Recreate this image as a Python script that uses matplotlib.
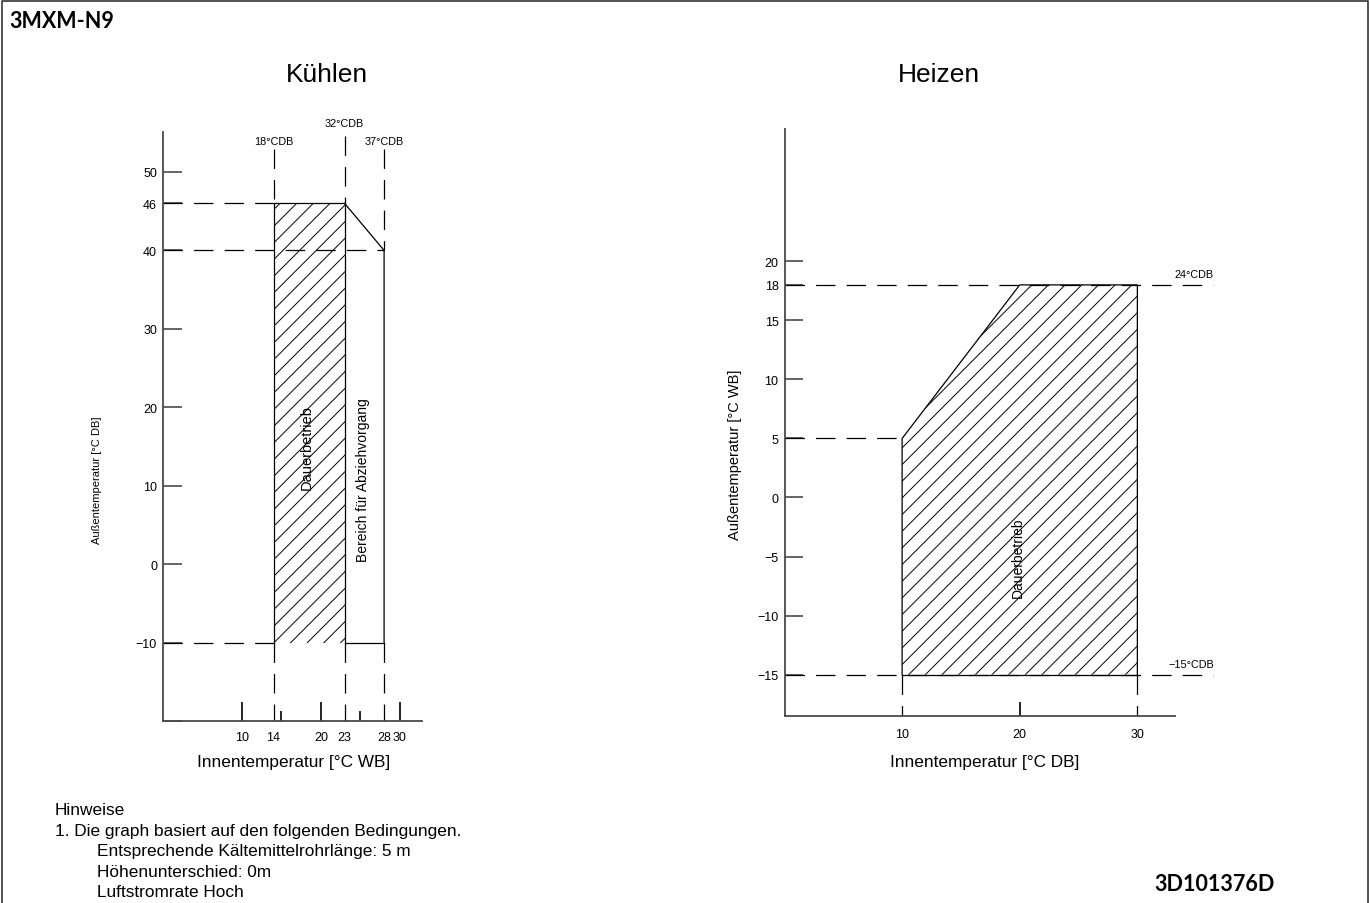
"""
Operation range chart, 3MXM-N9 (cooling / heating).
"""

import matplotlib.pyplot as plt
from matplotlib.font_manager import FontProperties
from matplotlib.lines import Line2D
from matplotlib.patches import Polygon

# ── DATA ──────────────────────────────────────────────────────────────────────
# Kühlen: indoor WB (x) vs outdoor DB (y)
cool_cont_x = [14, 14, 23, 23]          # Dauerbetrieb (hatched)
cool_cont_y = [-10, 46, 46, -10]
cool_pull_x = [23, 28, 28]              # Bereich für Abziehvorgang
cool_pull_y = [46, 40, -10]
cool_yticks = [-20, -10, 0, 10, 20, 30, 40, 46, 50]
cool_ylabels = ["", "−10", "0", "10", "20", "30", "40", "46", "50"]
cool_xticks = [10, 14, 20, 23, 28, 30]
cool_xminor = [15, 25]
cool_xguides = [14, 23, 28]             # dashed verticals
cool_limits = {"x": (0, 32.8), "y": (-20, 55.1)}
cool_cdb = [("18°CDB", 14, 54.0), ("32°CDB", 23, 56.2), ("37°CDB", 28, 54.0)]

# Heizen: indoor DB (x) vs outdoor WB (y)
heat_cont_x = [10, 10, 20, 30, 30]
heat_cont_y = [-15, 5, 18, 18, -15]
heat_yticks = [-15, -10, -5, 0, 5, 10, 15, 18, 20]
heat_ylabels = ["−15", "−10", "−5", "0", "5", "10", "15", "18", "20"]
heat_xticks = [10, 20, 30]
heat_limits = {"x": (0, 33.2), "y": (-18.5, 31.2)}
heat_cdb = [("24°CDB", 18), ("−15°CDB", -15)]

notes = [
    ("Hinweise", 55),
    ("1. Die graph basiert auf den folgenden Bedingungen.", 55),
    ("Entsprechende Kältemittelrohrlänge: 5 m", 97),
    ("Höhenunterschied: 0m", 97),
    ("Luftstromrate Hoch", 97),
]

# ── STYLE ─────────────────────────────────────────────────────────────────────
plt.rcParams["lines.scale_dashes"] = False
plt.rcParams["hatch.linewidth"] = 0.7
plt.rcParams["font.family"] = "Liberation Sans"

W, H = 1370, 904
AXIS = "#4a4a4a"
LW = 0.9
DASH = (0, (14, 8))
TICK_FONT = FontProperties(family="Liberation Sans", size=9)
SMALL_FONT = FontProperties(family="Liberation Sans", size=7.8)


def fx(px):
    return px / W


def fy(py):
    return 1 - py / H


def axes_box(fig, x0, x1, y_top, y_bot):
    return fig.add_axes([fx(x0), fy(y_bot), (x1 - x0) / W, (y_bot - y_top) / H])


def style_axes(ax, limits):
    ax.set_xlim(*limits["x"])
    ax.set_ylim(*limits["y"])
    for s in ("top", "right"):
        ax.spines[s].set_visible(False)
    for s in ("left", "bottom"):
        ax.spines[s].set_color(AXIS)
        ax.spines[s].set_linewidth(1.3)


def line(ax, x, y, dashed=False, **kw):
    ax.plot(x, y, color="black", lw=LW, ls=DASH if dashed else "-",
            clip_on=False, **kw)


def main():
    fig = plt.figure(figsize=(W / 100, H / 100), dpi=100)

    # frame
    fig.add_artist(Line2D([fx(1.5), fx(1.5), fx(1367.5), fx(1367.5)],
                          [0, fy(1.5), fy(1.5), 0],
                          transform=fig.transFigure, color="#333333", lw=1.2))
    fig.text(fx(9), fy(22), "3MXM-N9", family="Lato", weight="bold",
             fontsize=15.5, ha="left", va="center")
    fig.text(fx(1154), fy(885), "3D101376D", family="Lato", weight="bold",
             fontsize=15.5, ha="left", va="center")

    # ── Kühlen ────────────────────────────────────────────────────────────────
    ax1 = axes_box(fig, 163, 422, 133, 722)
    style_axes(ax1, cool_limits)
    ymin = cool_limits["y"][0]

    ax1.add_patch(Polygon(list(zip(cool_cont_x, cool_cont_y)), closed=True,
                          facecolor="none", edgecolor="black", lw=0,
                          hatch="//"))
    line(ax1, cool_cont_x, cool_cont_y)
    line(ax1, cool_pull_x, cool_pull_y)
    line(ax1, [cool_cont_x[-1], cool_pull_x[-1]], [cool_cont_y[-1], cool_pull_y[-1]])

    # dashed guides
    line(ax1, [0, cool_cont_x[0]], [cool_cont_y[1]] * 2, dashed=True)
    line(ax1, [0, cool_pull_x[-1]], [cool_pull_y[1]] * 2, dashed=True)
    line(ax1, [0, cool_cont_x[0]], [cool_cont_y[0]] * 2, dashed=True)
    tops = [52.9, 54.6, 52.9]
    starts = [cool_cont_y[1], cool_cont_y[2], cool_pull_y[1]]
    for gx, top, st in zip(cool_xguides, tops, starts):
        line(ax1, [gx, gx], [top, st], dashed=True)
        line(ax1, [gx, gx], [cool_cont_y[0], ymin], dashed=True)

    for label, x, y in cool_cdb:
        ax1.text(x, y, label, fontproperties=SMALL_FONT, ha="center", va="center")

    ax1.text(18.2, 15.0, "Dauerbetrieb", rotation=90, ha="center",
             va="center", fontsize=10.5)
    ax1.text(25.3, 10.9, "Bereich für Abziehvorgang", rotation=90,
             ha="center", va="center", fontsize=10)

    ax1.set_yticks(cool_yticks, cool_ylabels)
    ax1.tick_params(axis="y", direction="in", length=14, width=1.2,
                    color=AXIS, pad=4.3)
    ax1.set_xticks(cool_xticks, [str(v) for v in cool_xticks])
    ax1.set_xticks(cool_xminor, minor=True)
    ax1.tick_params(axis="x", which="major", direction="in", length=14,
                    width=1.2, color="black", pad=7)
    ax1.tick_params(axis="x", which="minor", direction="in", length=7,
                    width=1.2, color="black")
    for t, v in zip(ax1.xaxis.get_major_ticks(), cool_xticks):
        if v in cool_xguides:
            t.tick1line.set_markersize(0)
    for t, v in zip(ax1.yaxis.get_major_ticks(), cool_yticks):
        if v == 50:
            t.tick1line.set_color("#8a8a8a")
    for lab in ax1.get_xticklabels() + ax1.get_yticklabels():
        lab.set_fontproperties(TICK_FONT)

    fig.text(fx(327), fy(75), "Kühlen", fontsize=19, ha="center", va="center")
    fig.text(fx(294), fy(762), "Innentemperatur [°C WB]", fontsize=12.4,
             ha="center", va="center")
    fig.text(fx(97), fy(480), "Außentemperatur [°C DB]", fontsize=8,
             rotation=90, ha="center", va="center")

    # ── Heizen ────────────────────────────────────────────────────────────────
    ax2 = axes_box(fig, 784.5, 1175, 130, 717)
    style_axes(ax2, heat_limits)
    ymin = heat_limits["y"][0]

    ax2.add_patch(Polygon(list(zip(heat_cont_x, heat_cont_y)), closed=True,
                          facecolor="none", edgecolor="black", lw=0,
                          hatch="//"))
    line(ax2, heat_cont_x, heat_cont_y)
    line(ax2, [heat_cont_x[0], heat_cont_x[-1]], [heat_cont_y[0], heat_cont_y[-1]])

    x_end = 36.4
    line(ax2, [0, x_end], [heat_cont_y[2]] * 2, dashed=True)
    line(ax2, [0, x_end], [heat_cont_y[0]] * 2, dashed=True)
    line(ax2, [0, heat_cont_x[1]], [heat_cont_y[1]] * 2, dashed=True)
    for gx in (heat_cont_x[0], heat_cont_x[-1]):
        line(ax2, [gx, gx], [heat_cont_y[0], ymin], dashed=True)

    for label, y in heat_cdb:
        ax2.text(x_end + 0.1, y + 0.9, label, fontproperties=SMALL_FONT,
                 ha="right", va="center")

    ax2.text(19.8, -5.0, "Dauerbetrieb", rotation=90, ha="center",
             va="center", fontsize=10)

    ax2.set_yticks(heat_yticks, heat_ylabels)
    ax2.tick_params(axis="y", direction="in", length=13, width=1.2,
                    color=AXIS, pad=4.3)
    ax2.set_xticks(heat_xticks, [str(v) for v in heat_xticks])
    ax2.tick_params(axis="x", direction="in", length=10, width=1.2,
                    color="black", pad=9)
    for t, v in zip(ax2.xaxis.get_major_ticks(), heat_xticks):
        if v in (heat_cont_x[0], heat_cont_x[-1]):
            t.tick1line.set_markersize(0)
    for lab in ax2.get_xticklabels() + ax2.get_yticklabels():
        lab.set_fontproperties(TICK_FONT)

    fig.text(fx(939), fy(75), "Heizen", fontsize=19, ha="center", va="center")
    fig.text(fx(985), fy(762), "Innentemperatur [°C DB]", fontsize=12.4,
             ha="center", va="center")
    fig.text(fx(735), fy(455), "Außentemperatur [°C WB]", fontsize=10.5,
             rotation=90, ha="center", va="center")

    # ── notes ─────────────────────────────────────────────────────────────────
    for i, (txt, x) in enumerate(notes):
        fig.text(fx(x), fy(811 + i * 20.5), txt, fontsize=12.4,
                 ha="left", va="center")

    fig.savefig("out.png", dpi=100)


if __name__ == "__main__":
    main()
